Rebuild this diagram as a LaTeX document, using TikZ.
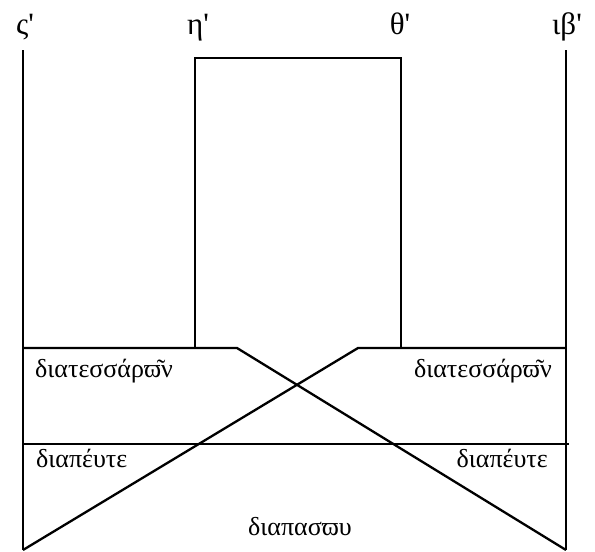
\documentclass[tikz,border=0pt]{standalone}
\usepackage{fontspec}
\setmainfont{Liberation Serif}
\begin{document}
\begin{tikzpicture}[x=1pt,y=-1pt,
  ln/.style={line width=2.3pt, line cap=butt, line join=miter},
  toplbl/.style={font=\fontsize{31}{31}\selectfont, inner sep=0pt, anchor=base},
  lbl/.style={font=\fontsize{26}{26}\selectfont, inner sep=0pt}]
\useasboundingbox (0,0) rectangle (595,552);
% corners
\coordinate (LT) at (23,50);
\coordinate (LB) at (23,550);
\coordinate (RT) at (566,50);
\coordinate (RB) at (566,550);
\coordinate (BL) at (195,348);
\coordinate (BTL) at (195,58);
\coordinate (BTR) at (401,58);
\coordinate (BR) at (401,348);
\coordinate (DA) at (237,348);
\coordinate (DB) at (358,348);
\coordinate (ML) at (23,348);
\coordinate (MR) at (566,348);
\coordinate (HL) at (23,444);
\coordinate (HR) at (569,444);
% outer verticals
\draw[ln] (LT) -- (LB);
\draw[ln] (RT) -- (RB);
% central box
\draw[ln] (BL) -- (BTL) -- (BTR) -- (BR);
% upper horizontal with the crossing
\draw[ln] (ML) -- (DA) -- (RB);
\draw[ln] (MR) -- (DB) -- (LB);
% lower horizontal
\draw[ln] (HL) -- (HR);
% top labels
\node[toplbl] (s6) at (25,34) {ς\textquotesingle};
\node[toplbl] (h8) at (198,34) {η\textquotesingle};
\node[toplbl] (t9) at (400,34) {θ\textquotesingle};
\node[toplbl] (ib12) at (567,34) {ιβ\textquotesingle};
% lower labels
\node[lbl, anchor=base west] (d4l) at (35,377) {διατεσσάρϖ͂ν};
\node[lbl, anchor=base east] (d4r) at (552,377) {διατεσσάρϖ͂ν};
\node[lbl, anchor=base west] (d5l) at (36,467) {διαπέυτε};
\node[lbl, anchor=base east] (d5r) at (548,467) {διαπέυτε};
\node[lbl, anchor=base] (d8) at (300,535) {διαπασϖυ};
\end{tikzpicture}
\end{document}
